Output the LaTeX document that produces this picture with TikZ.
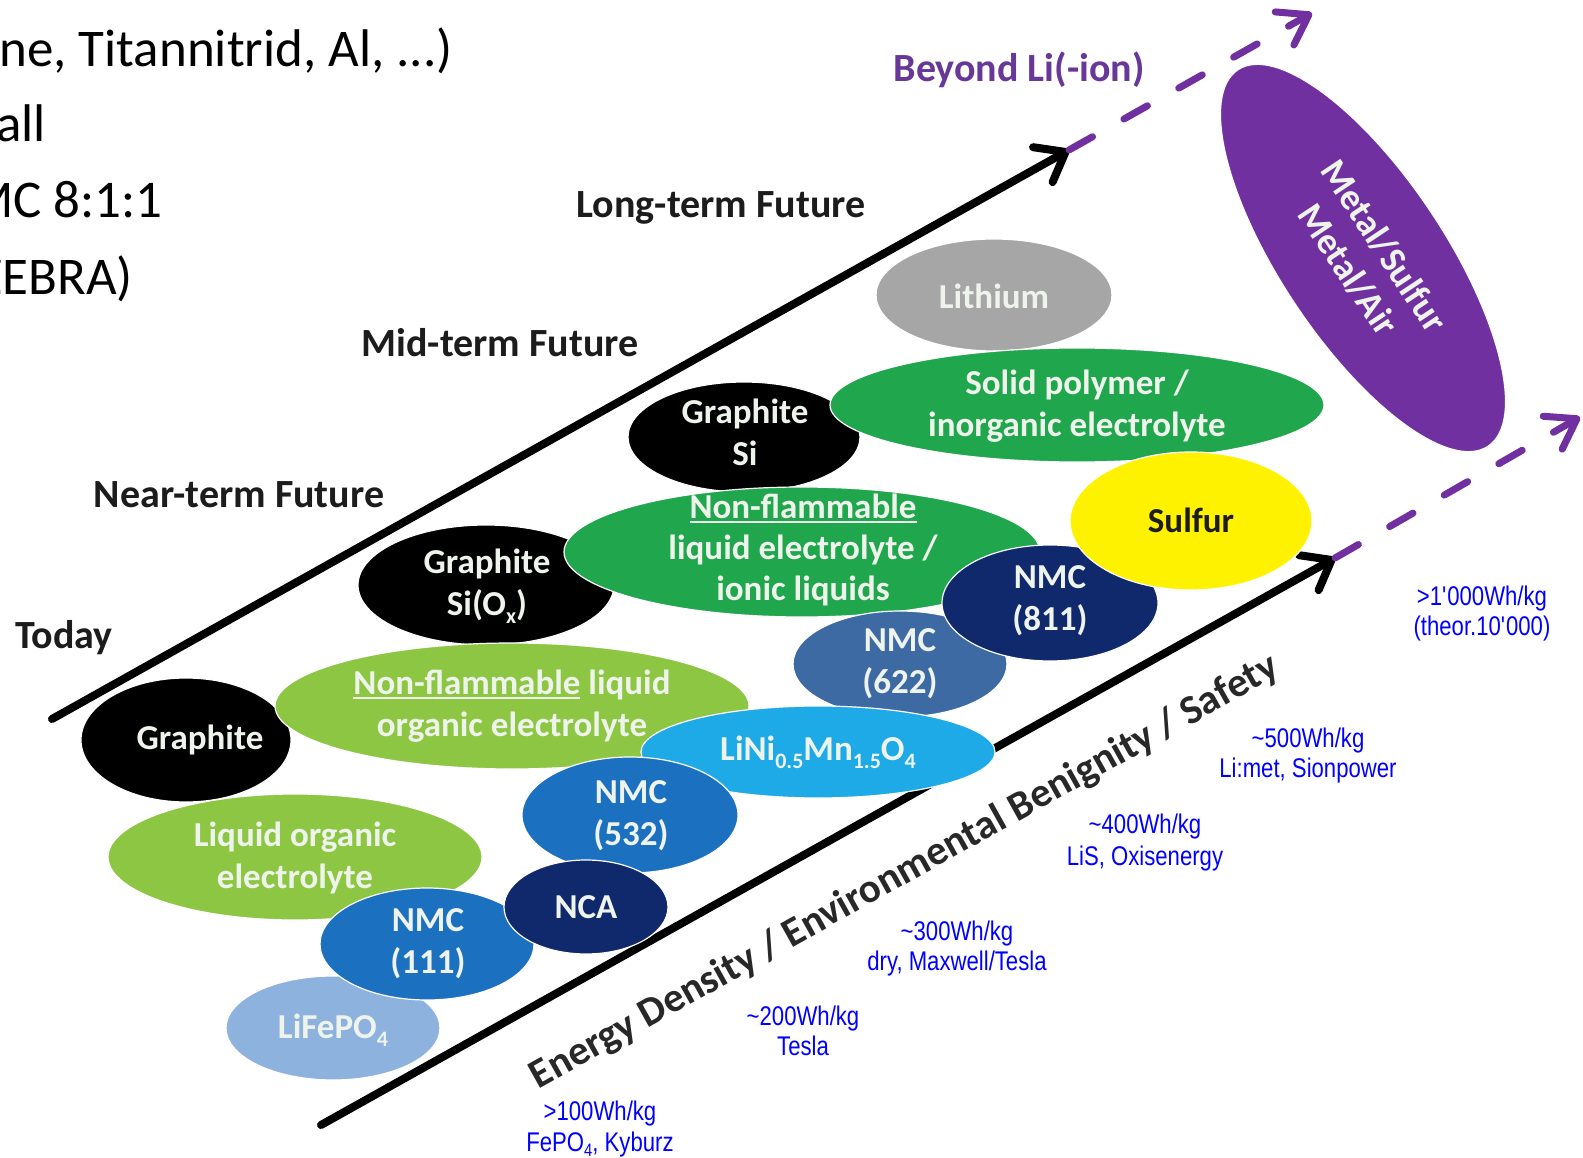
\documentclass[tikz,border=0pt]{standalone}
\usepackage{fontspec}
\setmainfont{Carlito}
\newfontfamily\narrowfont[FakeStretch=0.82]{Liberation Sans}
\usetikzlibrary{shapes.geometric,arrows.meta}
\definecolor{purp}{RGB}{112,48,160}
\definecolor{purptext}{RGB}{104,56,152}
\definecolor{lithgray}{RGB}{166,166,166}
\definecolor{midgreen}{RGB}{32,166,76}
\definecolor{litegreen}{RGB}{141,198,66}
\definecolor{sulfur}{RGB}{255,242,0}
\definecolor{navy}{RGB}{16,40,108}
\definecolor{steel}{RGB}{62,106,164}
\definecolor{nmcblue}{RGB}{28,112,192}
\definecolor{cyanblue}{RGB}{30,170,230}
\definecolor{paleblue}{RGB}{142,178,222}
\definecolor{wblue}{RGB}{0,0,255}
\definecolor{pale}{RGB}{238,244,236}
\definecolor{dark}{RGB}{28,28,28}
\definecolor{axisgray}{RGB}{40,40,40}
\newcommand\ulthick[1]{\setbox0\hbox{#1}\rlap{\rule[-4.5pt]{\wd0}{2.2pt}}\box0\relax}
\newcommand\lowsub[1]{\raisebox{-0.22em}{\fontsize{22}{22}\selectfont #1}}
\newcommand\whsub[1]{\raisebox{-0.2em}{\fontsize{18}{18}\selectfont #1}}
\begin{document}
\begin{tikzpicture}[x=1pt,y=-1pt,
 blob/.style={ellipse, inner sep=0pt, draw=white, line width=1.2pt},
 btext/.style={inner sep=0pt, align=center, text=pale, font=\fontsize{35}{42}\selectfont\bfseries},
 stage/.style={inner sep=0pt, anchor=base, text=dark, font=\fontsize{40}{48}\selectfont\bfseries},
 cut/.style={inner sep=0pt, anchor=base east, text=black, font=\fontsize{53}{64}\selectfont},
 wh/.style={inner sep=0pt, anchor=base, text=wblue, font=\narrowfont\fontsize{27}{31}\selectfont},
 axis/.style={line width=8pt, line cap=round, draw=black, -{Straight Barb[length=26pt,width=40pt,round]}},
 beyond/.style={line width=7pt, line cap=round, draw=purp, dash pattern=on 27pt off 36pt, -{Straight Barb[length=28pt,width=38pt,round]}}
]
\useasboundingbox (0,0) rectangle (1583,1158);
\clip (0,0) rectangle (1583,1158);
\fill[white] (0,0) rectangle (1583,1158);

% cut-off text at top left
\node[cut] (c1) at (453,67) {ne, Titannitrid, Al, ...)};
\node[cut] (c2) at (46,142) {all};
\node[cut] (c3) at (163,218) {MC 8:1:1};
\node[cut] (c4) at (133,295) {ZEBRA)};

% axes
\coordinate (u0) at (52,719);
\coordinate (u1) at (1069,150);
\coordinate (u2) at (1312,13);
\coordinate (l0) at (321,1125);
\coordinate (l1) at (1335,558);
\coordinate (l2) at (1580,417);
\draw[axis] (u0) -- (u1);
\draw[beyond] (u1) -- (u2);
\draw[axis] (l0) -- (l1);
\draw[beyond] (l1) -- (l2);

% stage labels
\node[stage, text=purptext] (beyondlbl) at (1019,82) {Beyond Li(-ion)};
\node[stage] (longterm) at (721,218) {Long-term Future};
\node[stage] (midterm) at (500,356) {Mid-term Future};
\node[stage] (nearterm) at (239,507) {Near-term Future};
\node[stage] (today) at (64,648) {Today};

% ellipses (back to front)
\node[blob, fill=lithgray, minimum width=236pt, minimum height=112pt] (li) at (994,295) {};
\node[blob, fill=black, minimum width=232pt, minimum height=110pt] (gsi) at (744,437) {};
\node[blob, fill=midgreen, minimum width=494pt, minimum height=114pt] (solid) at (1077,405) {};
\node[blob, fill=black, minimum width=256pt, minimum height=120pt] (gsiox) at (486,585) {};
\node[blob, fill=midgreen, minimum width=476pt, minimum height=130pt] (ionic) at (802,552) {};
\node[blob, fill=steel, minimum width=214pt, minimum height=106pt] (n622) at (900,664) {};
\node[blob, fill=navy, minimum width=216pt, minimum height=116pt] (n811) at (1050,603) {};
\node[blob, fill=sulfur, minimum width=242pt, minimum height=138pt] (sulf) at (1191,521) {};
\node[blob, fill=black, minimum width=210pt, minimum height=124pt] (graph) at (186,740) {};
\node[blob, fill=litegreen, minimum width=474pt, minimum height=126pt] (nforg) at (512,706) {};
\node[blob, fill=cyanblue, minimum width=354pt, minimum height=92pt] (lini) at (818,752) {};
\node[blob, fill=nmcblue, minimum width=216pt, minimum height=116pt] (n532) at (630,815) {};
\node[blob, fill=litegreen, minimum width=374pt, minimum height=126pt] (liqorg) at (295,857) {};
\node[blob, fill=paleblue, minimum width=214pt, minimum height=104pt] (lfp) at (333,1028) {};
\node[blob, fill=nmcblue, minimum width=214pt, minimum height=112pt] (n111) at (427,944) {};
\node[blob, fill=navy, minimum width=164pt, minimum height=94pt] (nca) at (586,907) {};
\node[blob, fill=purp, rotate=-56.4, minimum width=452pt, minimum height=164pt] (metal) at (1363,258) {};

% ellipse texts
\node[btext] (tli) at (994,296) {Lithium};
\node[btext] (tgsi) at (745,432) {Graphite\\Si};
\node[btext] (tsolid) at (1077,406) {Solid polymer /\\inorganic electrolyte};
\node[btext] (tgsiox) at (487,586) {Graphite\\Si(O\lowsub{x})};
\node[btext, font=\fontsize{35}{41}\selectfont\bfseries] (tionic) at (803,550) {\ulthick{Non-flammable}\\liquid electrolyte /\\ionic liquids};
\node[btext] (t622) at (900,664) {NMC\\(622)};
\node[btext] (t811) at (1050,601) {NMC\\(811)};
\node[btext, text=dark] (tsulf) at (1191,520) {Sulfur};
\node[btext] (tgraph) at (200,740) {Graphite};
\node[btext] (tnforg) at (512,706) {\ulthick{Non-flammable} liquid\\organic electrolyte};
\node[btext] (tlini) at (818,752) {LiNi\lowsub{0.5}Mn\lowsub{1.5}O\lowsub{4}};
\node[btext] (t532) at (631,816) {NMC\\(532)};
\node[btext] (tliqorg) at (295,858) {Liquid organic\\electrolyte};
\node[btext] (tlfp) at (333,1030) {LiFePO\lowsub{4}};
\node[btext] (t111) at (428,944) {NMC\\(111)};
\node[btext] (tnca) at (586,907) {NCA};
\node[btext, rotate=-56.4, font=\fontsize{37}{43}\selectfont\bfseries] (tmetal) at (1366,258) {Metal/Sulfur\\Metal/Air};

% axis label
\node[inner sep=0pt, anchor=base, rotate=29.2, text=axisgray, font=\fontsize{41}{48}\selectfont\bfseries] (axlabel) at (910,882) {Energy Density / Environmental Benignity / Safety};

% energy density values
\node[wh] (w1a) at (600,1120) {>100Wh/kg};
\node[wh] (w1b) at (600,1151) {FePO\whsub{4}, Kyburz};
\node[wh] (w2a) at (803,1025) {\textasciitilde200Wh/kg};
\node[wh] (w2b) at (803,1055) {Tesla};
\node[wh] (w3a) at (957,940) {\textasciitilde300Wh/kg};
\node[wh] (w3b) at (957,970) {dry, Maxwell/Tesla};
\node[wh] (w4a) at (1145,833) {\textasciitilde400Wh/kg};
\node[wh] (w4b) at (1145,865) {LiS, Oxisenergy};
\node[wh] (w5a) at (1308,747) {\textasciitilde500Wh/kg};
\node[wh] (w5b) at (1308,777) {Li:met, Sionpower};
\node[wh] (w6a) at (1482,605) {>1\textquotesingle000Wh/kg};
\node[wh] (w6b) at (1482,635) {(theor.10\textquotesingle000)};
\end{tikzpicture}
\end{document}
